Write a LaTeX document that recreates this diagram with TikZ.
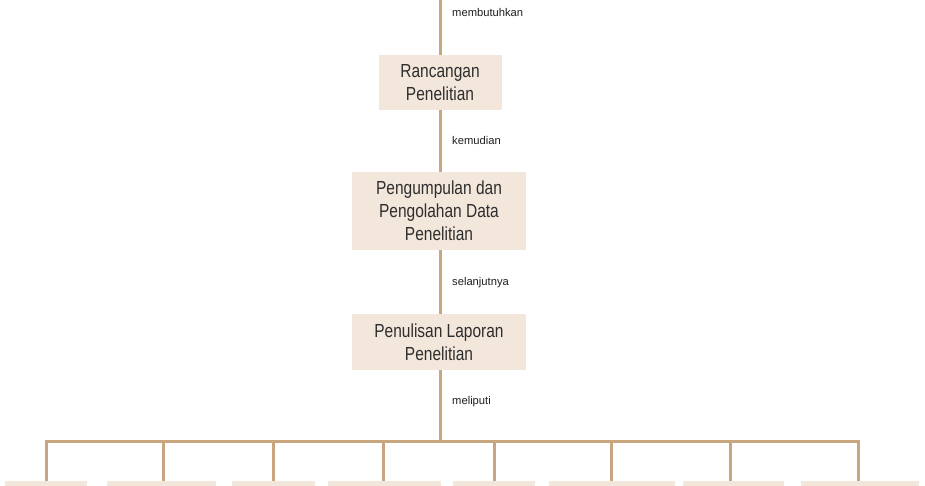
\documentclass[tikz,border=0pt]{standalone}
\usepackage{fontspec}
\setmainfont{Liberation Sans}
\newfontfamily\narrowfont[FakeStretch=0.82]{Liberation Sans}
\definecolor{linec}{HTML}{C8A780}
\definecolor{boxc}{HTML}{F3E6DB}
\definecolor{txtc}{HTML}{2E2E2E}
\tikzset{
  conn/.style={draw=linec, line width=3pt},
  mainbox/.style={fill=boxc, draw=none, align=center, text=txtc, inner sep=0pt,
    font=\narrowfont\fontsize{18.9}{23}\selectfont},
  leafbox/.style={fill=boxc, draw=none, inner sep=0pt, minimum height=20pt, anchor=north},
  lbl/.style={anchor=west, inner sep=0pt, text=black!88, font=\fontsize{11.2}{13}\selectfont}
}
\begin{document}
\begin{tikzpicture}[x=1pt,y=-1pt]
\clip (0,0) rectangle (925,485);
\fill[white] (0,0) rectangle (925,485);
\coordinate (top) at (440,-5);
\node[mainbox, minimum width=123pt, minimum height=55pt] (r1) at (440,82.5) {Rancangan\\Penelitian};
\node[mainbox, minimum width=174pt, minimum height=78pt] (r2) at (439,211) {Pengumpulan dan\\Pengolahan Data\\Penelitian};
\node[mainbox, minimum width=174pt, minimum height=56pt] (r3) at (439,342) {Penulisan Laporan\\Penelitian};
\coordinate (hub) at (440,441);
\node[lbl] (l1) at (452,12) {membutuhkan};
\node[lbl] (l2) at (452,140) {kemudian};
\node[lbl] (l3) at (452,283) {selanjutnya};
\node[lbl] (l4) at (452,402) {meliputi};
\node[leafbox, minimum width=82pt] (b1) at (46,481) {};
\node[leafbox, minimum width=109pt] (b2) at (161.5,481) {};
\node[leafbox, minimum width=83pt] (b3) at (273.5,481) {};
\node[leafbox, minimum width=113pt] (b4) at (384.5,481) {};
\node[leafbox, minimum width=82pt] (b5) at (494,481) {};
\node[leafbox, minimum width=126pt] (b6) at (612,481) {};
\node[leafbox, minimum width=101pt] (b7) at (733.5,481) {};
\node[leafbox, minimum width=118pt] (b8) at (860,481) {};
\draw[conn] (top) -- (r1);
\draw[conn] (r1) -- (r2.north -| r1.south);
\draw[conn] (r2.south -| r1.south) -- (r3.north -| r1.south);
\draw[conn] (r3.south -| r1.south) -- (hub);
\draw[conn] (hub) -| (b1.north);
\draw[conn] (hub) -| (b2.north -| 163,0);
\draw[conn] (hub) -| (b3.north);
\draw[conn] (hub) -| (b4.north -| 383,0);
\draw[conn] (hub) -| (b5.north);
\draw[conn] (hub) -| (b6.north -| 611,0);
\draw[conn] (hub) -| (b7.north -| 730,0);
\draw[conn] (hub) -| (b8.north -| 858,0);
\end{tikzpicture}
\end{document}
